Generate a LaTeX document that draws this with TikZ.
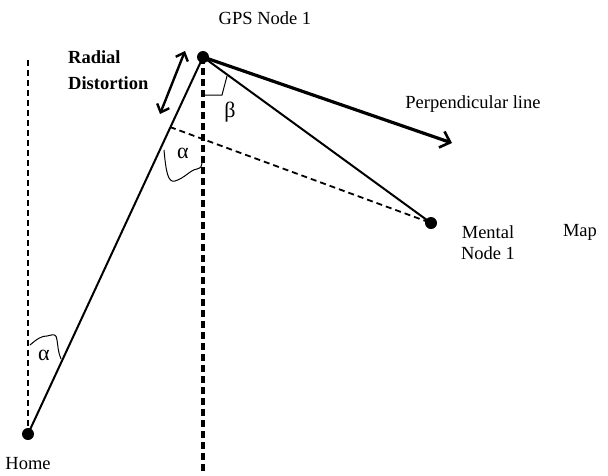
\documentclass[tikz,border=0pt]{standalone}
\usepackage{fontspec}
\setmainfont{Liberation Serif}
\usetikzlibrary{arrows.meta}
\begin{document}
\begin{tikzpicture}[x=1pt,y=-1pt,
  dot/.style={circle,fill=black,inner sep=0pt,minimum size=12pt},
  lbl/.style={font=\fontsize{18.5}{20}\selectfont,inner sep=0pt},
  blbl/.style={font=\fontsize{18.5}{26}\selectfont\bfseries,inner sep=0pt,align=left},
  solidline/.style={line width=2pt},
  dashline/.style={line width=1.8pt,dash pattern=on 6pt off 4pt},
  heavydash/.style={line width=3.2pt,dash pattern=on 7pt off 4pt},
  angmark/.style={line width=1pt}]
\useasboundingbox (0,0) rectangle (608,475);
% nodes
\node[dot] (gps) at (203,57) {};
\node[dot] (home) at (28,434) {};
\node[dot] (mental) at (431,223) {};
\coordinate (perp) at (452,143);
\coordinate (dstart) at (170,127);
\coordinate (gbot) at (203,471);
\coordinate (ltop) at (28,60);
\coordinate (rdA) at (185,51);
\coordinate (rdB) at (160,114);
% lines
\draw[dashline] (ltop) -- (home.center);
\draw[heavydash] (gps.center) -- (gbot);
\draw[solidline] (home.center) -- (gps.center);
\draw[solidline] (gps.center) -- (mental.center);
\draw[dashline] (dstart) -- (mental.center);
\draw[line width=3.2pt,-{Straight Barb[length=9pt,width=17pt,line width=2.6pt]}] (gps.center) -- (perp);
\draw[line width=2.4pt,{Straight Barb[length=7pt,width=13pt]}-{Straight Barb[length=7pt,width=13pt]}] (rdA) -- (rdB);
% angle marks
\draw[angmark] (164,150) .. controls (166,172) and (168,183) .. (175,181)
  .. controls (185,178) and (190,170) .. (197,169) .. controls (201,168) and (202,166) .. (202,163);
\draw[angmark] (204,95) -- (222,95) -- (227,76);
\draw[angmark] (30,345) .. controls (38,338) and (42,336) .. (47,336)
  .. controls (55,334) and (56,334) .. (57,340) .. controls (58,346) and (58,352) .. (61,359);
% labels
\node[lbl] (gpslbl) at (265,18) {GPS Node 1};
\node[blbl,anchor=west] (rdlbl) at (68,70) {Radial\\Distortion};
\node[lbl] (perplbl) at (473,104) {Perpendicular line};
\node[lbl] (mentallbl) at (488,232) {Mental};
\node[lbl] (maplbl) at (580,232) {Map};
\node[lbl] (nodelbl) at (488,253) {Node 1};
\node[lbl] (homelbl) at (28,464) {Home};
\node[lbl,font=\fontsize{22}{24}\selectfont] (alpha1) at (183,153) {α};
\node[lbl,font=\fontsize{22}{24}\selectfont] (alpha2) at (44,355) {α};
\node[lbl,font=\fontsize{22}{24}\selectfont] (beta) at (230,112) {β};
\end{tikzpicture}
\end{document}
